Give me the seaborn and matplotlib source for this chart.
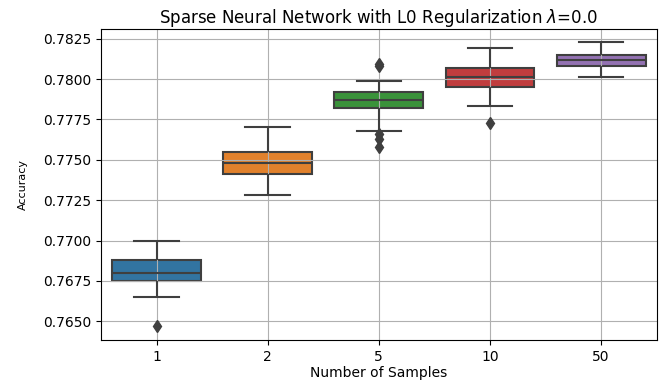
import matplotlib
matplotlib.use("Agg")
import matplotlib.pyplot as plt
import seaborn as sns
import pandas as pd

# accuracy per run, grouped by number of samples
samples = ["1", "2", "5", "10", "50"]
acc_1 = [0.7647, 0.7665, 0.7675, 0.7678, 0.7680, 0.7684, 0.7688, 0.7694, 0.7700]
acc_2 = [0.7728, 0.7736, 0.7741, 0.7745, 0.7748, 0.7751, 0.7755, 0.7762, 0.7770]
acc_5 = [0.7758, 0.7763, 0.7766, 0.7768, 0.7782, 0.7783, 0.7785, 0.7786, 0.7787,
         0.7788, 0.7789, 0.7791, 0.7792, 0.7795, 0.7799, 0.7808, 0.7809]
acc_10 = [0.7773, 0.7783, 0.7795, 0.7798, 0.7801, 0.7804, 0.7807, 0.7812, 0.7819]
acc_50 = [0.7801, 0.7805, 0.7808, 0.7810, 0.7812, 0.7813, 0.7815, 0.7819, 0.7823]
yticks = [0.7650, 0.7675, 0.7700, 0.7725, 0.7750, 0.7775, 0.7800, 0.7825]

groups = [acc_1, acc_2, acc_5, acc_10, acc_50]
df = pd.DataFrame({
    "Number of Samples": [s for s, g in zip(samples, groups) for _ in g],
    "Accuracy": [v for g in groups for v in g],
})

fig = plt.figure(figsize=(6.64, 3.81), dpi=100)
ax = fig.add_axes([0.152, 0.108, 0.837, 0.816])

sns.boxplot(data=df, x="Number of Samples", y="Accuracy", hue="Number of Samples",
            order=samples, hue_order=samples, palette="tab10", legend=False,
            saturation=0.75, linecolor="#3f3f3f", linewidth=1.5, width=0.8,
            flierprops=dict(marker="d", markerfacecolor="#3f3f3f",
                            markeredgecolor="#3f3f3f", markersize=6), ax=ax)

# grid sits over the box faces but under the box lines, like the old seaborn look
for p in ax.patches:
    p.set_zorder(1)
for ln in ax.lines:
    ln.set_zorder(2)
ax.set_axisbelow("line")
ax.grid(True, color="#b0b0b0", linewidth=0.8)

ax.set_yticks(yticks)
ax.set_ylim(0.76385, 0.78310)
ax.tick_params(labelsize=10)
ax.set_xlabel("Number of Samples", fontsize=10, labelpad=2)
ax.set_ylabel("Accuracy", fontsize=8, labelpad=11)
ax.set_title(r"Sparse Neural Network with L0 Regularization $\lambda$=0.0", fontsize=12, pad=4)

fig.savefig("out.png", dpi=100)
